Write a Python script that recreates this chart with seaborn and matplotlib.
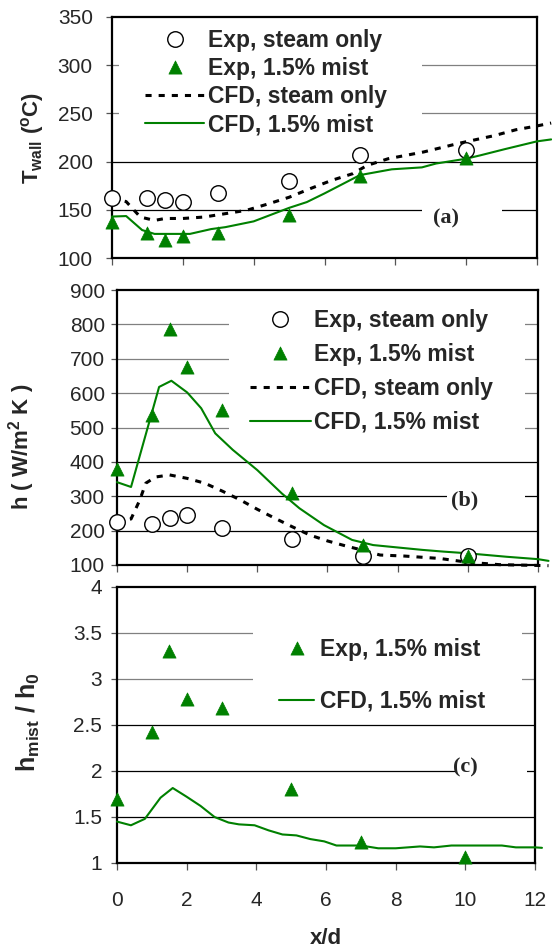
import matplotlib
matplotlib.use("Agg")
import matplotlib.pyplot as plt
import seaborn as sns
from matplotlib.patches import Rectangle

# ---------------- data ----------------
x_exp = [0, 1, 1.5, 2, 3, 5, 7, 10]

# (a) wall temperature, deg C
twall_exp_steam = [162.5, 162, 160, 158, 167, 179.5, 207, 212]
twall_exp_mist = [137, 126, 119, 122.5, 126, 145, 185, 203.5]
x_cfd_twall_steam = [0, 0.4, 0.8, 1.2, 1.5, 2, 2.6, 3.2, 3.8, 4.4, 5, 5.6, 6.2,
                     6.8, 7.2, 7.8, 8.8, 9.8, 10.8, 11.4, 12, 12.4]
twall_cfd_steam = [162.5, 158.5, 142.5, 139, 141, 141, 142.5, 146, 149.5, 156,
                   163, 172, 180.5, 187.5, 196, 203, 210, 219, 227, 233, 237, 240]
x_cfd_twall_mist = [0, 0.4, 0.85, 1.2, 2.2, 2.8, 3.2, 4, 5, 5.5, 6, 7, 7.9,
                    8.75, 9.15, 10, 10.4, 11.1, 12, 12.4]
twall_cfd_mist = [143, 143.5, 129, 125, 125, 130, 132, 138, 152, 158, 167, 186,
                  192, 194, 198, 203, 206.5, 213, 221, 223]

# (b) heat transfer coefficient, W/m2K
h_exp_steam = [224, 220, 237, 245, 207, 176, 127, 126]
h_exp_mist = [378, 535, 787, 675, 550, 310, 157, 125]
x_cfd_h_steam = [0, 0.4, 0.65, 0.82, 1.1, 1.5, 2, 2.5, 3, 3.5, 4, 4.5, 5, 5.5,
                 6, 6.5, 7, 7.5, 8.2, 9.2, 10, 10.9, 12.3]
h_cfd_steam = [226, 234, 289, 338, 356, 362, 352, 338, 315, 290, 262, 236, 211,
               187, 170, 156, 143, 129, 126, 119, 108, 101, 98]
x_cfd_h_mist = [0, 0.4, 1.2, 1.55, 2, 2.4, 2.8, 3.3, 4, 4.7, 5.2, 5.9, 6.7, 7.3,
                7.8, 8.7, 9.3, 10, 11.1, 12, 12.3]
h_cfd_mist = [341, 327, 618, 636, 602, 556, 483, 435, 376, 308, 265, 216, 173,
              158, 153, 144, 139, 134, 124, 117, 112]

# (c) enhancement ratio h_mist / h_0
ratio_exp = [1.70, 2.42, 3.30, 2.78, 2.68, 1.80, 1.23, 1.06]
x_cfd_ratio = [0, 0.4, 0.8, 1.25, 1.6, 2, 2.4, 2.8, 3.2, 3.5, 3.95, 4.35, 4.75,
               5.15, 5.55, 5.95, 6.3, 7, 7.5, 8, 8.7, 9.1, 9.6, 11.05, 11.45,
               12, 12.2]
ratio_cfd = [1.45, 1.41, 1.48, 1.71, 1.815, 1.72, 1.62, 1.50, 1.44, 1.42, 1.41,
             1.355, 1.31, 1.30, 1.26, 1.235, 1.19, 1.19, 1.16, 1.16, 1.18, 1.17,
             1.19, 1.19, 1.17, 1.17, 1.165]

x_ticks = [0, 2, 4, 6, 8, 10, 12]
x_tick_labels = ["0", "2", "4", "6", "8", "10", "12"]
twall_ticks = [100, 150, 200, 250, 300, 350]
h_ticks = [100, 200, 300, 400, 500, 600, 700, 800, 900]
ratio_ticks = [1, 1.5, 2, 2.5, 3, 3.5, 4]
ratio_tick_labels = ["1", "1.5", "2", "2.5", "3", "3.5", "4"]

label_steam_exp = "Exp, steam only"
label_mist_exp = "Exp, 1.5% mist"
label_steam_cfd = "CFD, steam only"
label_mist_cfd = "CFD, 1.5% mist"

# ---------------- style ----------------
sns.set_theme(style="white")
plt.rcParams["font.family"] = ["Liberation Sans", "DejaVu Sans"]
plt.rcParams["mathtext.fontset"] = "custom"
plt.rcParams["mathtext.rm"] = "Liberation Sans"
plt.rcParams["mathtext.bf"] = "Liberation Sans:bold"
plt.rcParams["mathtext.it"] = "Liberation Sans:italic"

GREEN = "#008000"
GRID_DARK = "#000000"
GRID_LIGHT = "#808080"
TICK_FS = 15
LEG_FS = 16.5

fig = plt.figure(figsize=(5.52, 9.5), dpi=100)
ax_a = fig.add_axes([112 / 552, 1 - 258 / 950, 425 / 552, 241 / 950])
ax_b = fig.add_axes([117 / 552, 1 - 565 / 950, 421 / 552, 275 / 950])
ax_c = fig.add_axes([117 / 552, 1 - 863 / 950, 418 / 552, 276 / 950])


def cfd_line(ax, x, y, dashed, label):
    if dashed:
        sns.lineplot(x=x, y=y, ax=ax, color="black", lw=2.2, sort=False,
                     estimator=None, errorbar=None, label=label,
                     linestyle=(0, (2.0, 2.3)), legend=False)
    else:
        sns.lineplot(x=x, y=y, ax=ax, color=GREEN, lw=1.5, sort=False,
                     estimator=None, errorbar=None, label=label, legend=False)
    line = ax.lines[-1]
    line.set_clip_on(False)
    line.set_zorder(3)
    line.set_label(label)
    return line


def exp_points(ax, x, y, mist, label):
    if mist:
        sns.scatterplot(x=x, y=y, ax=ax, marker="^", s=90, color=GREEN,
                        edgecolor=GREEN, linewidth=0.5, label=label, legend=False)
    else:
        sns.scatterplot(x=x, y=y, ax=ax, marker="o", s=125, color="white",
                        edgecolor="black", linewidth=1.0, label=label, legend=False)
    coll = ax.collections[-1]
    coll.set_clip_on(False)
    coll.set_zorder(4)
    coll.set_label(label)
    return coll


def frame(ax, yticks, ylim, gray_rows, ypad, yticklabels=None):
    ax.set_xlim(0, 12)
    ax.set_ylim(*ylim)
    ax.set_xticks(x_ticks)
    ax.set_yticks(yticks)
    if yticklabels is not None:
        ax.set_yticklabels(yticklabels)
    for v in yticks[1:-1]:
        ax.axhline(v, color=GRID_LIGHT if v in gray_rows else GRID_DARK,
                   lw=0.9, zorder=0.6)
    for s in ax.spines.values():
        s.set_color("black")
        s.set_linewidth(1.6)
        s.set_visible(True)
    ax.tick_params(axis="y", direction="out", length=4.3, width=0.9,
                   color="#555555", labelsize=TICK_FS, pad=ypad, left=True)
    ax.tick_params(axis="x", direction="out", length=5, width=0.9,
                   color="#555555", labelsize=TICK_FS, pad=15.5, bottom=True)
    ax.set_xlabel("")
    ax.set_ylabel("")


def blank(ax, x0, x1, y0, y1):
    ax.add_patch(Rectangle((x0, y0), x1 - x0, y1 - y0, facecolor="white",
                           edgecolor="none", zorder=1))


def legend(ax, handles, x, y, hlen, hpad, spacing):
    leg = ax.legend(handles=handles, loc="center left", bbox_to_anchor=(x, y),
                    bbox_transform=ax.transData, frameon=False, borderpad=0,
                    borderaxespad=0, handlelength=hlen, handletextpad=hpad,
                    labelspacing=spacing, scatterpoints=1, scatteryoffsets=[0.5],
                    prop={"weight": "bold", "size": LEG_FS})
    leg.set_zorder(6)
    return leg


# ---------------- (a) wall temperature ----------------
frame(ax_a, twall_ticks, (100, 350), [250, 300], 9.5)
ax_a.tick_params(axis="x", labelbottom=False)
la1 = cfd_line(ax_a, x_cfd_twall_steam, twall_cfd_steam, True, label_steam_cfd)
la2 = cfd_line(ax_a, x_cfd_twall_mist, twall_cfd_mist, False, label_mist_cfd)
pa1 = exp_points(ax_a, x_exp, twall_exp_steam, False, label_steam_exp)
pa2 = exp_points(ax_a, x_exp, twall_exp_mist, True, label_mist_exp)
blank(ax_a, 0.2, 8.76, 228, 349)
blank(ax_a, 8.76, 11.0, 130, 158)
legend(ax_a, [pa1, pa2, la1, la2], 0.94, 282, 2.55, 0.17, 0.22)
ax_a.text(9.43, 141.5, "(a)", family="Liberation Serif", weight="bold",
          fontsize=16, ha="center", va="center", zorder=5)
ax_a.set_ylabel(r"$\mathbf{T_{wall}\ (^{o}C)}$", fontsize=16,
                va="center", ha="center", rotation_mode="default")
ax_a.yaxis.set_label_coords(-0.188, 0.5)

# ---------------- (b) heat transfer coefficient ----------------
frame(ax_b, h_ticks, (100, 900), [500, 600, 700, 800], 4.5)
ax_b.tick_params(axis="x", labelbottom=False)
lb1 = cfd_line(ax_b, x_cfd_h_steam, h_cfd_steam, True, label_steam_cfd)
lb2 = cfd_line(ax_b, x_cfd_h_mist, h_cfd_mist, False, label_mist_cfd)
pb1 = exp_points(ax_b, x_exp, h_exp_steam, False, label_steam_exp)
pb2 = exp_points(ax_b, x_exp, h_exp_mist, True, label_mist_exp)
blank(ax_b, 3.19, 11.62, 450, 895)
blank(ax_b, 9.4, 11.62, 272, 318)
legend(ax_b, [pb1, pb2, lb1, lb2], 3.79, 664, 2.65, 0.15, 0.48)
ax_b.text(9.92, 289, "(b)", family="Liberation Serif", weight="bold",
          fontsize=16, ha="center", va="center", zorder=5)
ax_b.set_ylabel(r"$\mathbf{h\ (\ W/m^{2}\ K\ )}$", fontsize=16,
                va="center", ha="center", rotation_mode="default")
ax_b.yaxis.set_label_coords(-0.226, 0.429)

# ---------------- (c) enhancement ratio ----------------
frame(ax_c, ratio_ticks, (1, 4), [3, 3.5], 6.5, ratio_tick_labels)
ax_c.set_xticklabels(x_tick_labels)
lc2 = cfd_line(ax_c, x_cfd_ratio, ratio_cfd, False, label_mist_cfd)
pc2 = exp_points(ax_c, x_exp, ratio_exp, True, label_mist_exp)
blank(ax_c, 3.9, 11.62, 2.62, 3.95)
blank(ax_c, 9.73, 11.78, 1.88, 2.2)
legend(ax_c, [pc2, lc2], 4.65, 3.04, 1.55, 0.26, 1.25)
ax_c.text(10.0, 2.04, "(c)", family="Liberation Serif", weight="bold",
          fontsize=16, ha="center", va="center", zorder=5)
ax_c.set_ylabel(r"$\mathbf{h_{mist}\ /\ h_{0}}$", fontsize=18,
                va="center", ha="center", rotation_mode="default")
ax_c.yaxis.set_label_coords(-0.213, 0.51)
ax_c.set_xlabel("x/d", fontsize=16, weight="bold", va="center")
ax_c.xaxis.set_label_coords(0.5, -(938 - 863) / 276)

fig.savefig("out.png", dpi=100)
